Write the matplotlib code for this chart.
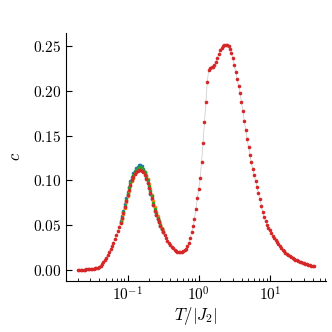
import matplotlib
matplotlib.use("Agg")
import matplotlib.pyplot as plt
import numpy as np
from matplotlib.ticker import FuncFormatter, FormatStrFormatter

plt.rcParams["mathtext.fontset"] = "cm"
plt.rcParams["font.family"] = "serif"
plt.rcParams["font.size"] = 11

# ─────────────────────────────────────────────────────────────────────────────
# Data: specific heat c vs T/|J2|  (log10 T on a 0.02 grid)
log_T = [-1.70, -1.68, -1.66, -1.64, -1.62, -1.60, -1.58, -1.56, -1.54, -1.52,
         -1.50, -1.48, -1.46, -1.44, -1.42, -1.40, -1.38, -1.36, -1.34, -1.32,
         -1.30, -1.28, -1.26, -1.24, -1.22, -1.20, -1.18, -1.16, -1.14, -1.12,
         -1.10, -1.08, -1.06, -1.04, -1.02, -1.00, -0.98, -0.96, -0.94, -0.92,
         -0.90, -0.88, -0.86, -0.84, -0.82, -0.80, -0.78, -0.76, -0.74, -0.72,
         -0.70, -0.68, -0.66, -0.64, -0.62, -0.60, -0.58, -0.56, -0.54, -0.52,
         -0.50, -0.48, -0.46, -0.44, -0.42, -0.40, -0.38, -0.36, -0.34, -0.32,
         -0.30, -0.28, -0.26, -0.24, -0.22, -0.20, -0.18, -0.16, -0.14, -0.12,
         -0.10, -0.08, -0.06, -0.04, -0.02, 0.00, 0.02, 0.04, 0.06, 0.08,
         0.10, 0.12, 0.14, 0.16, 0.18, 0.20, 0.22, 0.24, 0.26, 0.28,
         0.30, 0.32, 0.34, 0.36, 0.38, 0.40, 0.42, 0.44, 0.46, 0.48,
         0.50, 0.52, 0.54, 0.56, 0.58, 0.60, 0.62, 0.64, 0.66, 0.68,
         0.70, 0.72, 0.74, 0.76, 0.78, 0.80, 0.82, 0.84, 0.86, 0.88,
         0.90, 0.92, 0.94, 0.96, 0.98, 1.00, 1.02, 1.04, 1.06, 1.08,
         1.10, 1.12, 1.14, 1.16, 1.18, 1.20, 1.22, 1.24, 1.26, 1.28,
         1.30, 1.32, 1.34, 1.36, 1.38, 1.40, 1.42, 1.44, 1.46, 1.48,
         1.50, 1.52, 1.54, 1.56, 1.58, 1.60, 1.62]

c_red = [0.0000, 0.0000, 0.0000, 0.0000, 0.0001, 0.0001, 0.0002, 0.0003, 0.0004, 0.0006,
         0.0008, 0.0011, 0.0014, 0.0018, 0.0022, 0.0032, 0.0045, 0.0061, 0.0080, 0.0105,
         0.0135, 0.0167, 0.0200, 0.0232, 0.0265, 0.0302, 0.0340, 0.0384, 0.0430, 0.0477,
         0.0525, 0.0575, 0.0630, 0.0700, 0.0770, 0.0832, 0.0890, 0.0948, 0.1000, 0.1038,
         0.1070, 0.1093, 0.1110, 0.1118, 0.1120, 0.1110, 0.1090, 0.1058, 0.1020, 0.0968,
         0.0910, 0.0855, 0.0800, 0.0728, 0.0660, 0.0612, 0.0570, 0.0528, 0.0490, 0.0454,
         0.0420, 0.0384, 0.0350, 0.0321, 0.0295, 0.0274, 0.0255, 0.0238, 0.0222, 0.0210,
         0.0200, 0.0197, 0.0196, 0.0199, 0.0205, 0.0217, 0.0235, 0.0262, 0.0300, 0.0355,
         0.0420, 0.0490, 0.0570, 0.0680, 0.0800, 0.0905, 0.1030, 0.1210, 0.1420, 0.1650,
         0.1880, 0.2100, 0.2240, 0.2258, 0.2265, 0.2272, 0.2290, 0.2325, 0.2370, 0.2415,
         0.2455, 0.2488, 0.2510, 0.2520, 0.2520, 0.2512, 0.2500, 0.2472, 0.2430, 0.2365,
         0.2290, 0.2215, 0.2140, 0.2062, 0.1980, 0.1882, 0.1780, 0.1670, 0.1560, 0.1462,
         0.1370, 0.1283, 0.1200, 0.1128, 0.1060, 0.0992, 0.0925, 0.0858, 0.0790, 0.0712,
         0.0640, 0.0585, 0.0540, 0.0503, 0.0470, 0.0440, 0.0410, 0.0382, 0.0355, 0.0330,
         0.0305, 0.0282, 0.0260, 0.0242, 0.0225, 0.0207, 0.0190, 0.0175, 0.0160, 0.0150,
         0.0140, 0.0130, 0.0120, 0.0112, 0.0105, 0.0097, 0.0090, 0.0084, 0.0078, 0.0072,
         0.0066, 0.0060, 0.0055, 0.0050, 0.0046, 0.0042, 0.0038]

# other system sizes only differ around the low-T peak (log T = -1.10 .. -0.50)
log_T_peak = log_T[30:61]
c_blue = [0.054, 0.060, 0.066, 0.073, 0.080, 0.087, 0.093, 0.099, 0.104, 0.108,
          0.111, 0.1135, 0.1155, 0.1168, 0.117, 0.1158, 0.113, 0.108, 0.103, 0.097,
          0.091, 0.085, 0.079, 0.072, 0.066, 0.061, 0.057, 0.053, 0.049, 0.045, 0.042]
c_orange = [0.052, 0.057, 0.062, 0.069, 0.076, 0.082, 0.088, 0.094, 0.099, 0.103,
            0.107, 0.110, 0.112, 0.113, 0.1135, 0.113, 0.112, 0.109, 0.106, 0.101,
            0.096, 0.090, 0.084, 0.077, 0.070, 0.065, 0.060, 0.055, 0.051, 0.047, 0.043]
c_green = [0.053, 0.058, 0.064, 0.071, 0.078, 0.085, 0.091, 0.097, 0.102, 0.106,
           0.109, 0.112, 0.114, 0.1148, 0.115, 0.114, 0.112, 0.109, 0.105, 0.100,
           0.094, 0.088, 0.082, 0.075, 0.068, 0.063, 0.058, 0.054, 0.050, 0.046, 0.042]

series = [
    (log_T_peak, c_blue,   "tab:blue"),
    (log_T_peak, c_orange, "tab:orange"),
    (log_T_peak, c_green,  "tab:green"),
    (log_T,      c_red,    "tab:red"),
]

# ─────────────────────────────────────────────────────────────────────────────
fig = plt.figure(figsize=(3.32, 3.32), dpi=100)
ax = fig.add_axes([0.199, 0.154, 0.783, 0.747])

for lt, c, col in series:
    T = 10.0 ** np.array(lt)
    ax.plot(T, c, '-', color='0.78', linewidth=0.5, zorder=1)
    ax.plot(T, c, 'o', color=col, markersize=2.6, markeredgewidth=0, zorder=2)

ax.set_xscale("log")
ax.set_xlim(10 ** -1.866, 10 ** 1.79)
ax.set_ylim(-0.0126, 0.2652)
ax.set_yticks([0.0, 0.05, 0.10, 0.15, 0.20, 0.25])
ax.yaxis.set_major_formatter(FormatStrFormatter(r"$%.2f$"))
ax.xaxis.set_major_formatter(FuncFormatter(lambda v, p: r"$10^{%d}$" % round(np.log10(v))))

ax.spines["top"].set_visible(False)
ax.spines["right"].set_visible(False)
ax.tick_params(which="both", direction="in", labelsize=11)
ax.tick_params(which="major", length=4)
ax.tick_params(which="minor", length=2)

ax.set_xlabel(r"$T/|J_2|$", fontsize=12, labelpad=1)
ax.set_ylabel(r"$c$", fontsize=12, labelpad=6)

fig.savefig("out.png", dpi=100)
